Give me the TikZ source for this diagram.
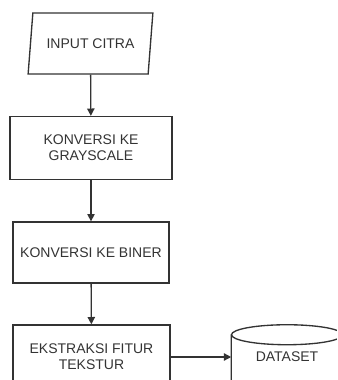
\documentclass[tikz,border=0pt]{standalone}
\usepackage{fontspec}
\setmainfont{Liberation Sans}
\usetikzlibrary{shapes.geometric, arrows.meta, positioning}

\begin{document}
\begin{tikzpicture}[x=0.75pt, y=-0.75pt,
    every node/.style={font=\fontsize{10.5}{11.8}\selectfont, text=black!80},
    procbox/.style={draw=black!80, line width=1pt, rectangle, align=center, inner sep=0pt},
    iobox/.style={draw=black!80, line width=1pt, trapezium, trapezium left angle=70,
        trapezium right angle=110, trapezium stretches=true, inner sep=0pt},
    flow/.style={draw=black!80, line width=1pt, -{Triangle[length=5.5pt, width=5.5pt]}},
    cyl/.style={draw=black!80, line width=1pt}]
    \useasboundingbox (0,0) rectangle (337,380);
    \clip (0,0) rectangle (337,380);

    % Input
    \node[iobox, minimum width=93.75pt, minimum height=45.75pt] (input) at (90.5,43.5) {INPUT CITRA};

    % Grayscale
    \node[procbox, minimum width=121.5pt, minimum height=47.25pt] (gray) at (91,148) {KONVERSI KE\\GRAYSCALE};

    % Biner
    \node[procbox, minimum width=117pt, minimum height=45.75pt] (biner) at (91,252.5) {KONVERSI KE BINER};

    % Ekstraksi fitur
    \node[procbox, minimum width=117.75pt, minimum height=48pt] (fitur) at (91.5,357) {EKSTRAKSI FITUR\\TEKSTUR};

    % Dataset (cylinder)
    \node[minimum width=83.25pt, minimum height=48pt, inner sep=0pt] (dataset) at (287,357) {DATASET};
    \draw[cyl] ([yshift=-7.5pt]dataset.north) ellipse [x radius=41.625pt, y radius=7.5pt];
    \draw[cyl] ([yshift=-7.5pt]dataset.north west) -- ([yshift=-7.5pt]dataset.south west)
        arc[start angle=180, end angle=360, x radius=41.625pt, y radius=7.5pt]
        -- ([yshift=-7.5pt]dataset.north east);

    % Arrows
    \draw[flow] (input) -- (gray);
    \draw[flow] (gray) -- (biner);
    \draw[flow] (biner) -- (fitur);
    \draw[flow] (fitur) -- (dataset);
\end{tikzpicture}
\end{document}
